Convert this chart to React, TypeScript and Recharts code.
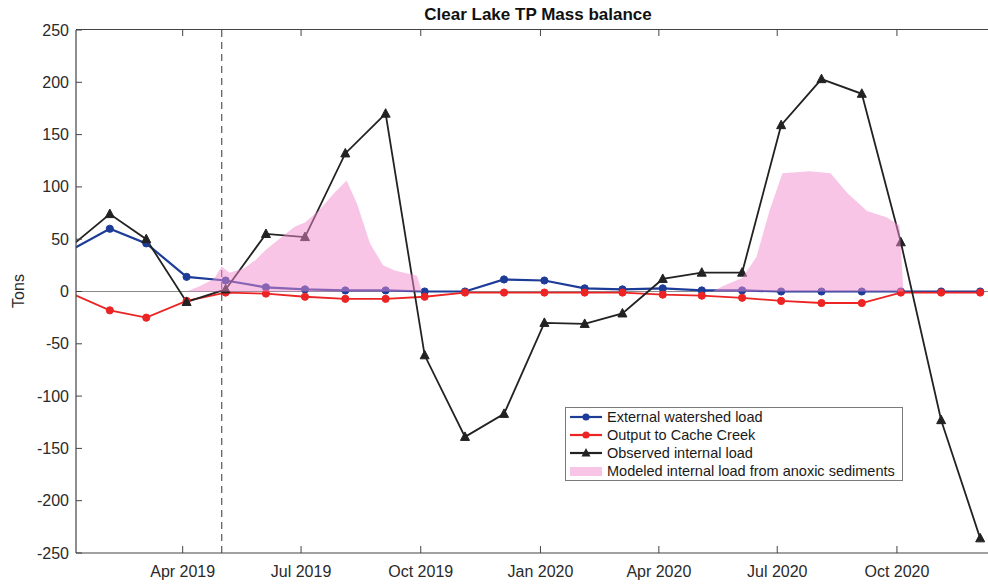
import React from "react";
import { ComposedChart, Line, Area, XAxis, YAxis, ReferenceLine, Legend } from "recharts";

const FONT = "'Liberation Sans', Arial, Helvetica, sans-serif";

// ---- data ----
const months = [
  "2019-01-04", "2019-02-04", "2019-03-04", "2019-04-04", "2019-05-04", "2019-06-04",
  "2019-07-04", "2019-08-04", "2019-09-04", "2019-10-04", "2019-11-04", "2019-12-04",
  "2020-01-04", "2020-02-04", "2020-03-04", "2020-04-04", "2020-05-04", "2020-06-04",
  "2020-07-04", "2020-08-04", "2020-09-04", "2020-10-04", "2020-11-04", "2020-12-04",
];
const externalWatershedLoad = [39, 60, 46, 14, 10.5, 4, 2, 1, 1, 0, 0, 11.5, 10.5, 3, 2, 3, 1, 1, 0, 0, 0, 0, 0, 0];
const outputToCacheCreek = [-1, -18, -25, -9, -1, -2, -5, -7, -7, -5, -1, -1, -1, -1, -1, -3, -4, -6, -9, -11, -11, -1, -1, -1];
const observedInternalLoad = [42, 74, 50, -10, 2, 55, 52, 132, 170, -61, -139, -117, -30, -31, -21, 12, 18, 18, 159, 203, 189, 47, -123, -236];

const modeledDates = [
  "2019-04-04", "2019-04-14", "2019-04-25", "2019-05-01", "2019-05-07", "2019-05-18", "2019-05-27",
  "2019-06-04", "2019-06-14", "2019-06-26", "2019-07-04", "2019-07-15", "2019-07-27", "2019-08-05",
  "2019-08-13", "2019-08-23", "2019-09-02", "2019-09-11", "2019-09-28", "2019-10-02",
  "2020-05-12", "2020-05-20", "2020-06-04", "2020-06-15", "2020-06-25", "2020-07-05", "2020-07-26",
  "2020-08-11", "2020-08-24", "2020-09-08", "2020-09-23", "2020-10-03", "2020-10-06",
];
const modeledInternalLoad = [
  0, 5, 12, 24, 18, 22, 30,
  40, 50, 62, 66, 78, 95, 106,
  84, 46, 25, 20, 15, 0,
  0, 5, 13, 33, 77, 113, 115,
  113, 94, 77, 71, 63, 0,
];

const seriesNames = [
  "External watershed load",
  "Output to Cache Creek",
  "Observed internal load",
  "Modeled internal load from anoxic sediments",
];
const titleText = "Clear Lake TP Mass balance";
const yAxisTitle = "Tons";

const xTickDates = ["2019-04-01", "2019-07-01", "2019-10-01", "2020-01-01", "2020-04-01", "2020-07-01", "2020-10-01"];
const xTickLabels = ["Apr 2019", "Jul 2019", "Oct 2019", "Jan 2020", "Apr 2020", "Jul 2020", "Oct 2020"];
const yTicks = [-250, -200, -150, -100, -50, 0, 50, 100, 150, 200, 250];
const xRange = ["2019-01-09", "2020-12-10"];
const anoxiaStartDate = "2019-05-01";

// ---- layout constants ----
const CHART_W = 988;
const CHART_H = 586;
const MARGIN_TOP = 30;
const Y_AXIS_W = 76;
const X_AXIS_H = 33;
const PLOT_W = CHART_W - Y_AXIS_W;
const PLOT_H = CHART_H - MARGIN_TOP - X_AXIS_H;

// ---- helpers ----
const toDay = (s: string) => Date.parse(s + "T00:00:00Z") / 86400000;

const table = months.map((m, i) => ({
  t: toDay(m),
  external: externalWatershedLoad[i],
  output: outputToCacheCreek[i],
  observed: observedInternalLoad[i],
}));
const modeledTable = modeledDates.map((d, i) => ({ t: toDay(d), modeled: modeledInternalLoad[i] }));
const xTicks = xTickDates.map(toDay);
const xDomain = [toDay(xRange[0]), toDay(xRange[1])];
const yMax = yTicks[yTicks.length - 1];
const yMin = yTicks[0];
const labelFor = (v: number) => {
  const i = xTicks.indexOf(v);
  return i >= 0 ? xTickLabels[i] : "";
};

const BLUE = "#1d3c98";
const RED = "#ec2424";
const BLACK = "#222222";
const PINK = "#f38bd0";
const AXIS = "#444";
const TEXT = "#2a2a2a";

const LeftTick = (props: any) => {
  const { x, y, payload } = props;
  return (
    <g>
      <line x1={x} x2={x + 6} y1={y} y2={y} stroke={AXIS} strokeWidth={1} />
      <text x={x - 7} y={y} dy={5.5} textAnchor="end" fontFamily={FONT} fontSize={16} fill={TEXT}>
        {payload.value}
      </text>
    </g>
  );
};

const AxisTitles = () => (
  <g>
    <text x={24} y={291} transform="rotate(-90 24 291)" textAnchor="middle" fontFamily={FONT} fontSize={16} fill={TEXT}>
      {yAxisTitle}
    </text>
    <text x={Y_AXIS_W + PLOT_W / 2 + 6} y={20} textAnchor="middle" fontFamily={FONT} fontSize={17} fontWeight="bold" fill="#111">
      {titleText}
    </text>
  </g>
);

const BottomTick = (props: any) => {
  const { x, y, payload } = props;
  return (
    <g>
      <line x1={x} x2={x} y1={y - PLOT_H} y2={y - PLOT_H + 6} stroke={AXIS} strokeWidth={1} />
      <line x1={x} x2={x} y1={y} y2={y - 7} stroke={AXIS} strokeWidth={1} />
      <text x={x} y={y + 24} textAnchor="middle" fontFamily={FONT} fontSize={16} fill={TEXT}>
        {labelFor(payload.value)}
      </text>
    </g>
  );
};

const TriangleDot = (props: any) => {
  const { cx, cy, index } = props;
  if (cx == null || cy == null) return <g key={`tri-${index}`} />;
  return (
    <polygon
      key={`tri-${index}`}
      points={`${cx},${cy - 5} ${cx - 4.5},${cy + 3.5} ${cx + 4.5},${cy + 3.5}`}
      fill={BLACK}
      stroke={BLACK}
      strokeWidth={1}
    />
  );
};

const legendRows = [
  { name: seriesNames[0], color: BLUE, kind: "circle" },
  { name: seriesNames[1], color: RED, kind: "circle" },
  { name: seriesNames[2], color: BLACK, kind: "triangle" },
  { name: seriesNames[3], color: PINK, kind: "patch" },
];

const LegendBox = () => (
  <div
    style={{
      border: "1px solid #7a7a7a",
      background: "#fff",
      width: 338,
      boxSizing: "border-box",
      fontFamily: FONT,
      fontSize: 14.5,
      color: "#1a1a1a",
    }}
  >
    {legendRows.map((r) => (
      <div key={r.name} style={{ display: "flex", alignItems: "center", height: 18, whiteSpace: "nowrap" }}>
        <svg width={41} height={18} style={{ flex: "none" }}>
          {r.kind === "patch" ? (
            <rect x={4} y={5} width={32} height={9} fill={PINK} fillOpacity={0.5} />
          ) : (
            <>
              <line x1={4} x2={36} y1={9} y2={9} stroke={r.color} strokeWidth={2.2} />
              {r.kind === "circle" ? (
                <circle cx={20} cy={9} r={3.6} fill={r.color} />
              ) : (
                <polygon points="20,4 15.5,12.5 24.5,12.5" fill={r.color} />
              )}
            </>
          )}
        </svg>
        <span style={{ lineHeight: "18px" }}>{r.name}</span>
      </div>
    ))}
  </div>
);

export default function App() {
  return (
    <div style={{ position: "absolute", left: 0, top: 0, width: CHART_W, height: CHART_H, background: "#fff" }}>
      <ComposedChart width={CHART_W} height={CHART_H} data={table} margin={{ top: MARGIN_TOP, right: 0, bottom: 0, left: 0 }}>
        <XAxis
          dataKey="t"
          type="number"
          domain={xDomain}
          allowDataOverflow
          ticks={xTicks}
          interval={0}
          height={X_AXIS_H}
          tickSize={0}
          tickMargin={0}
          tick={<BottomTick />}
          axisLine={{ stroke: AXIS, strokeWidth: 1.2 }}
        />
        <YAxis
          type="number"
          domain={[yMin, yMax]}
          ticks={yTicks}
          interval={0}
          width={Y_AXIS_W}
          tickSize={0}
          tickMargin={0}
          tick={<LeftTick />}
          axisLine={{ stroke: AXIS, strokeWidth: 1.2 }}
          allowDataOverflow
          label={<AxisTitles />}
        />
        <ReferenceLine y={0} stroke="#8a8a8a" strokeWidth={1.2} zIndex={50} />
        <ReferenceLine x={toDay(anoxiaStartDate)} stroke="#555" strokeWidth={1.2} strokeDasharray="7 5" zIndex={50} />
        <Line
          dataKey="external"
          name={seriesNames[0]}
          stroke={BLUE}
          strokeWidth={2.2}
          dot={{ r: 3.6, fill: BLUE, stroke: BLUE, strokeWidth: 1 }}
          activeDot={false}
          isAnimationActive={false}
          type="linear"
        />
        <Line
          dataKey="output"
          name={seriesNames[1]}
          stroke={RED}
          strokeWidth={1.8}
          dot={{ r: 3.6, fill: RED, stroke: RED, strokeWidth: 1 }}
          activeDot={false}
          isAnimationActive={false}
          type="linear"
        />
        <Line
          dataKey="observed"
          name={seriesNames[2]}
          stroke={BLACK}
          strokeWidth={1.8}
          dot={TriangleDot}
          activeDot={false}
          isAnimationActive={false}
          type="linear"
        />
        <Area
          data={modeledTable}
          dataKey="modeled"
          name={seriesNames[3]}
          type="linear"
          fill={PINK}
          fillOpacity={0.5}
          stroke="none"
          baseValue={0}
          isAnimationActive={false}
          activeDot={false}
          zIndex={1500}
        />
        <Legend
          layout="horizontal"
          verticalAlign="middle"
          align="center"
          content={<LegendBox />}
          wrapperStyle={{ position: "absolute", left: 565, top: 407, width: 338, height: 74 }}
        />
      </ComposedChart>
      <div
        style={{
          position: "absolute",
          left: Y_AXIS_W,
          top: MARGIN_TOP - 1,
          width: PLOT_W,
          height: 0,
          borderTop: `1.5px solid ${AXIS}`,
          zIndex: 5,
          pointerEvents: "none",
        }}
      />
    </div>
  );
}
